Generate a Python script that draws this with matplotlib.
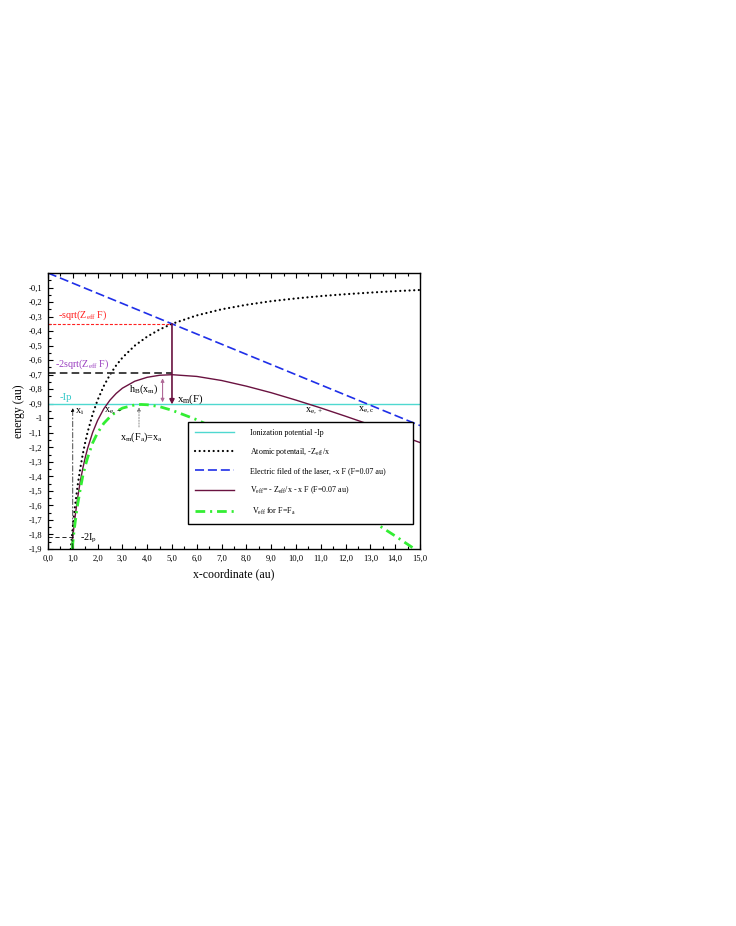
import numpy as np
import matplotlib
matplotlib.use('Agg')
import matplotlib.pyplot as plt
from matplotlib.ticker import FuncFormatter, MultipleLocator

plt.rcParams['font.family'] = ['Liberation Serif', 'DejaVu Serif']
plt.rcParams['mathtext.fontset'] = 'custom'
plt.rcParams['mathtext.rm'] = 'Liberation Serif'
plt.rcParams['mathtext.it'] = 'Liberation Serif:italic'
plt.rcParams['lines.scale_dashes'] = False

# ---- data ----
# atomic potential -Zeff/x
x_atom = [0.92, 0.95, 1.0, 1.05, 1.1, 1.2, 1.3, 1.4, 1.5, 1.6, 1.8, 2.0, 2.25, 2.5, 2.75,
          3.0, 3.5, 4.0, 4.5, 5.0, 6.0, 7.0, 8.0, 9.0, 10.0, 11.0, 12.0, 13.0, 14.0, 15.0]
y_atom = [-1.90, -1.842, -1.75, -1.667, -1.591, -1.458, -1.346, -1.25, -1.167, -1.094,
          -0.972, -0.875, -0.778, -0.70, -0.636, -0.583, -0.50, -0.438, -0.389, -0.35,
          -0.292, -0.25, -0.219, -0.194, -0.175, -0.159, -0.146, -0.135, -0.125, -0.117]

# laser field -xF
x_field = [0.0, 15.0]
y_field = [0.0, -1.05]

# ionization potential
x_ip = [0.0, 15.0]
y_ip = [-0.9, -0.9]

# Veff for F=0.07
x_veff = [0.955, 1.0, 1.05, 1.1, 1.2, 1.3, 1.4, 1.5, 1.6, 1.8, 2.0, 2.25, 2.5, 2.75, 3.0,
          3.5, 4.0, 4.5, 5.0, 6.0, 7.0, 8.0, 9.0, 10.0, 11.0, 12.0, 13.0, 14.0, 15.0]
y_veff = [-1.90, -1.82, -1.74, -1.668, -1.542, -1.437, -1.348, -1.272, -1.206, -1.098,
          -1.015, -0.935, -0.875, -0.829, -0.793, -0.745, -0.718, -0.704, -0.70, -0.712,
          -0.74, -0.779, -0.824, -0.875, -0.929, -0.986, -1.045, -1.105, -1.167]

# Veff for F=Fa
x_veff_a = [0.98, 1.0, 1.05, 1.1, 1.2, 1.3, 1.4, 1.5, 1.6, 1.8, 2.0, 2.25, 2.5, 2.75, 3.0,
            3.5, 3.75, 4.0, 4.5, 5.0, 6.0, 7.0, 8.0, 9.0, 10.0, 11.0, 12.0, 13.0, 14.0, 14.7]
y_veff_a = [-1.90, -1.86, -1.78, -1.71, -1.59, -1.49, -1.40, -1.33, -1.27, -1.17, -1.10,
            -1.035, -0.99, -0.955, -0.93, -0.908, -0.905, -0.907, -0.92, -0.945, -1.01,
            -1.09, -1.18, -1.28, -1.38, -1.485, -1.59, -1.70, -1.81, -1.89]

# guide levels
x_m = 5.0
sqrt_level = -0.35
barrier_level = -0.69
two_ip_level = -1.815
x_i = 1.0
x_a = 3.67

x_ticks = np.arange(0, 16, 1)
y_ticks = np.arange(-1.9, -0.05, 0.1)

purple = '#6a1240'
green = '#33ee33'
cyan = '#4fd8d0'
blue = '#1f2fe8'

fig = plt.figure(figsize=(7.36, 9.26), dpi=100)
ax = fig.add_axes([0.0652, 0.4071, 0.5054, 0.2981])

ax.plot(x_ip, y_ip, color=cyan, lw=1.0, label='Ionization potential -Ip')
ax.plot(x_atom, y_atom, color='black', lw=1.6, linestyle=(0, (0.05, 3.3)),
        dash_capstyle='round', label='Atomic potentail, -Z$_{\\mathrm{eff}}$/x')
ax.plot(x_field, y_field, color=blue, lw=1.2, linestyle=(0, (6.5, 2.8)),
        label='Electric filed of the laser, -x F (F=0.07 au)')
ax.plot(x_veff, y_veff, color=purple, lw=1.0,
        label='V$_{\\mathrm{eff}}$= - Z$_{\\mathrm{eff}}$/x - x F (F=0.07 au)')
ax.plot(x_veff_a, y_veff_a, color=green, lw=2.0, linestyle=(0, (7, 3.5, 1.5, 3.5)),
        label=' V$_{\\mathrm{eff}}$ for F=F$_{\\mathrm{a}}$')

# guide lines
ax.plot([0, x_m], [sqrt_level, sqrt_level], color='#ff2020', lw=0.8, linestyle=(0, (2.2, 1.2)))
ax.plot([0, x_m], [barrier_level, barrier_level], color='#333333', lw=1.3, linestyle=(0, (5.5, 3)))
ax.plot([0, x_i], [two_ip_level, two_ip_level], color='black', lw=0.6, linestyle=(0, (3, 2)))

# arrows
ax.annotate('', xy=(x_m, -0.905), xytext=(x_m, sqrt_level),
            arrowprops=dict(arrowstyle='-|>', color=purple, lw=1.2,
                            mutation_scale=7, shrinkA=0, shrinkB=0))
ax.annotate('', xy=(4.62, -0.725), xytext=(4.62, -0.89),
            arrowprops=dict(arrowstyle='<|-|>', color='#b06a98', lw=0.8,
                            mutation_scale=5, shrinkA=0, shrinkB=0))
ax.annotate('', xy=(x_i, -0.93), xytext=(x_i, -1.9),
            arrowprops=dict(arrowstyle='-|>', color='black', lw=0.5, linestyle=(0, (4, 1.5, 1, 1.5)),
                            mutation_scale=5, shrinkA=0, shrinkB=0))
ax.annotate('', xy=(x_a, -0.925), xytext=(x_a, -1.06),
            arrowprops=dict(arrowstyle='-|>', color='#777777', lw=0.6, linestyle=(0, (1, 1)),
                            mutation_scale=5, shrinkA=0, shrinkB=0))

# labels
fs = 7.3
ax.text(0.4, -0.29, '-sqrt(Z$_{\\mathrm{eff}}$ F)', color='#ff2020', fontsize=fs, va='center')
ax.text(0.28, -0.63, '-2sqrt(Z$_{\\mathrm{eff}}$ F)', color='#9a3fc0', fontsize=fs, va='center')
ax.text(0.45, -0.855, '-Ip', color='#33c8c8', fontsize=fs + 0.5, va='center')
ax.text(1.1, -0.955, 'x$_{\\mathrm{i}}$', fontsize=fs, va='center')
ax.text(1.3, -1.83, '-2I$_{\\mathrm{p}}$', fontsize=fs, va='center')
ax.text(2.25, -0.95, 'x$_{\\mathrm{e,-}}$', fontsize=fs, va='center')
ax.text(3.25, -0.80, 'h$_{\\mathrm{B}}$(x$_{\\mathrm{m}}$)', fontsize=fs, va='center')
ax.text(5.2, -0.87, 'x$_{\\mathrm{m}}$(F)', fontsize=fs + 0.5, va='center')
ax.text(2.9, -1.13, 'x$_{\\mathrm{m}}$(F$_{\\mathrm{a}}$)=x$_{\\mathrm{a}}$', fontsize=fs, va='center')
ax.text(10.35, -0.95, 'x$_{\\mathrm{e,+}}$', fontsize=fs, va='center')
ax.text(12.5, -0.94, 'x$_{\\mathrm{e,c}}$', fontsize=fs, va='center')

ax.set_xlim(0, 15)
ax.set_ylim(-1.9, 0)
ax.set_xticks(x_ticks)
ax.set_yticks(y_ticks)
ax.xaxis.set_minor_locator(MultipleLocator(0.5))
ax.yaxis.set_minor_locator(MultipleLocator(0.05))


def fmt_x(v, pos):
    return ('%.1f' % v).replace('.', ',')


def fmt_y(v, pos):
    if abs(v + 1.0) < 1e-6:
        return '-1'
    return ('%.1f' % v).replace('.', ',')


ax.xaxis.set_major_formatter(FuncFormatter(fmt_x))
ax.yaxis.set_major_formatter(FuncFormatter(fmt_y))
ax.tick_params(which='both', direction='in', top=True, right=False, labelsize=6.2, width=0.8)
ax.tick_params(which='major', length=3.5, pad=4)
ax.tick_params(which='minor', length=2)
for s in ax.spines.values():
    s.set_linewidth(1.0)

ax.set_xlabel('x-coordinate (au)', fontsize=8.5, labelpad=4)
ax.set_ylabel('energy (au)', fontsize=8.5, labelpad=3)

leg = ax.legend(loc='lower left', bbox_to_anchor=(0.376, 0.091, 0.605, 0.30), mode='expand',
                fontsize=5.8, frameon=True, fancybox=False, framealpha=1, handlelength=4.8,
                handletextpad=2.0, labelspacing=1.15, borderpad=0.9, borderaxespad=0)
leg.get_frame().set_edgecolor('black')
leg.get_frame().set_linewidth(1.0)

fig.savefig('out.png', dpi=100, facecolor='white')
